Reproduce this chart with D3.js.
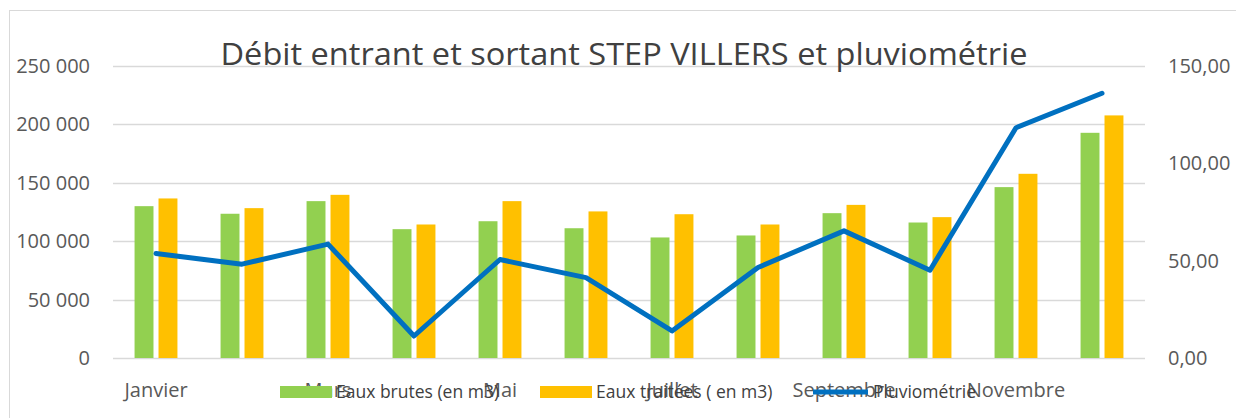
<!DOCTYPE html>
<html>
<head>
<meta charset="utf-8">
<script src="https://cdnjs.cloudflare.com/ajax/libs/d3/7.8.5/d3.min.js"></script>
<style>
  body { margin: 0; background: #fff; }
  svg { display: block; }
</style>
</head>
<body>
<svg width="1236" height="418"></svg>
<script>
// data
var months = ["Janvier", "Février", "Mars", "Avril", "Mai", "Juin", "Juillet", "Août", "Septembre", "Octobre", "Novembre", "Décembre"];
var eauxBrutes = [130000, 123500, 134300, 110300, 117100, 111100, 103200, 104900, 124000, 116000, 146300, 192800];
var eauxTraitees = [136600, 128300, 139700, 114300, 134300, 125500, 123100, 114300, 131100, 120600, 157700, 207700];
var pluvio = [53.7, 48.2, 58.5, 11.3, 50.6, 41.3, 13.9, 46.5, 65.3, 45.1, 118.3, 136.0];
var leftTicks = [0, 50000, 100000, 150000, 200000, 250000];
var rightTicks = [0, 50, 100, 150];
var seriesNames = ["Eaux brutes (en m3)", "Eaux traitées ( en m3)", "Pluviométrie"];

var svg = d3.select("svg"),
    margin = {top: 66, right: 91, bottom: 60, left: 113},
    width = +svg.attr("width") - margin.left - margin.right,
    height = 358 - margin.top;

var font = "'Open Sans', 'Noto Sans', sans-serif";
var textColor = "#595959";
var colors = ["#92D050", "#FFC000", "#0070C0"];

// chart frame
svg.append("rect")
    .attr("x", 9.5).attr("y", 10.5)
    .attr("width", 1240).attr("height", 420)
    .attr("fill", "none")
    .attr("stroke", "#D9D9D9");

var g = svg.append("g").attr("transform", "translate(" + margin.left + "," + margin.top + ")");

var x = d3.scaleBand().domain(months).range([0, width]);
var x1 = d3.scaleBand().domain([0, 1]).range([0, x.bandwidth()]).paddingInner(0.21).paddingOuter(0.9);
var y = d3.scaleLinear().domain([0, 250000]).range([height, 0]);
var y2 = d3.scaleLinear().domain([0, 150]).range([height, 0]);

// gridlines
g.append("g")
    .selectAll("line")
    .data(leftTicks)
    .enter().append("line")
      .attr("x1", 0).attr("x2", width)
      .attr("y1", function(d) { return Math.round(y(d)) + 0.5; })
      .attr("y2", function(d) { return Math.round(y(d)) + 0.5; })
      .attr("stroke", "#D9D9D9")
      .attr("stroke-width", 1.5);

// left axis
var yAxis = g.append("g")
    .call(d3.axisLeft(y).tickValues(leftTicks).tickSize(0).tickPadding(23)
      .tickFormat(function(d) { return d3.format(",")(d).replace(/,/g, " "); }));
yAxis.select(".domain").remove();

// right axis
var yAxis2 = g.append("g")
    .attr("transform", "translate(" + width + ",0)")
    .call(d3.axisRight(y2).tickValues(rightTicks).tickSize(0).tickPadding(23)
      .tickFormat(function(d) { return d3.format(".2f")(d).replace(".", ","); }));
yAxis2.select(".domain").remove();

svg.selectAll(".tick text")
    .attr("font-family", font)
    .attr("font-size", 20)
    .attr("fill", textColor);

// bars
var barData = [eauxBrutes, eauxTraitees];
g.append("g")
    .selectAll("g")
    .data(barData)
    .enter().append("g")
      .attr("fill", function(d, i) { return colors[i]; })
    .selectAll("rect")
    .data(function(d, i) { return d.map(function(v, j) { return {s: i, m: months[j], v: v}; }); })
    .enter().append("rect")
      .attr("x", function(d) { return x(d.m) + x1(d.s); })
      .attr("y", function(d) { return y(d.v); })
      .attr("width", x1.bandwidth())
      .attr("height", function(d) { return height - y(d.v); });

// rainfall line
var line = d3.line()
    .x(function(d, i) { return x(months[i]) + x.bandwidth() / 2; })
    .y(function(d) { return y2(d); });

g.append("path")
    .datum(pluvio)
    .attr("d", line)
    .attr("fill", "none")
    .attr("stroke", colors[2])
    .attr("stroke-width", 5)
    .attr("stroke-linejoin", "round")
    .attr("stroke-linecap", "round");

// x labels, every other month
g.append("g")
    .selectAll("text")
    .data(months.filter(function(d, i) { return i % 2 == 0; }))
    .enter().append("text")
      .attr("x", function(d) { return x(d) + x.bandwidth() / 2; })
      .attr("y", 397 - margin.top)
      .attr("text-anchor", "middle")
      .attr("font-family", font)
      .attr("font-size", 20)
      .attr("fill", textColor)
      .text(function(d) { return d; });

// title
svg.append("text")
    .attr("x", 624)
    .attr("y", 65)
    .attr("text-anchor", "middle")
    .attr("font-family", font)
    .attr("font-size", 31)
    .attr("fill", "#404040")
    .attr("textLength", 807)
    .attr("lengthAdjust", "spacingAndGlyphs")
    .text("Débit entrant et sortant STEP VILLERS et pluviométrie");

// legend, drawn on top of the month labels like the original
var legendX = [280, 540, 813];
var legend = svg.append("g")
    .selectAll("g")
    .data(seriesNames)
    .enter().append("g")
      .attr("transform", function(d, i) { return "translate(" + legendX[i] + ",0)"; });

legend.each(function(d, i) {
  var item = d3.select(this);
  if (i < 2) {
    item.append("rect")
        .attr("x", 0).attr("y", 386)
        .attr("width", 52).attr("height", 12)
        .attr("fill", colors[i]);
  } else {
    item.append("line")
        .attr("x1", 0).attr("x2", 55)
        .attr("y1", 392).attr("y2", 392)
        .attr("stroke", colors[2])
        .attr("stroke-width", 5);
  }
  item.append("text")
      .attr("x", i < 2 ? 56 : 60)
      .attr("y", 398)
      .attr("font-family", font)
      .attr("font-size", 17.5)
      .attr("fill", "#404040")
      .text(d);
});
</script>
</body>
</html>
